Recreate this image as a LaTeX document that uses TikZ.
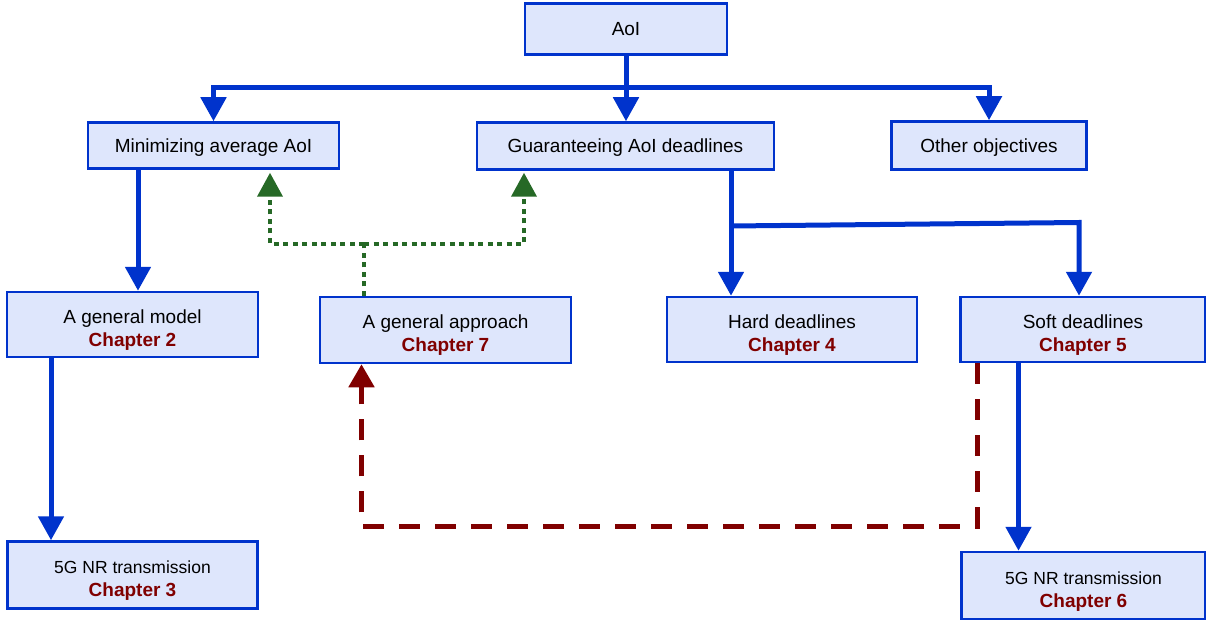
\documentclass[tikz,border=0pt]{standalone}
\usepackage{fontspec}
\setmainfont{Liberation Sans}
\definecolor{BoxBlue}{RGB}{0,51,204}
\definecolor{BoxFill}{RGB}{222,230,252}
\definecolor{ChapRed}{RGB}{128,0,0}
\definecolor{LinkGreen}{RGB}{38,105,38}
\usetikzlibrary{arrows.meta, positioning, calc}
\newcommand{\chaplabel}[2]{\rule{0pt}{20pt}#1\\{\color{ChapRed}\bfseries #2}}
\newcommand{\smalltxt}[1]{{\fontsize{17.5}{23}\selectfont #1}}

\begin{document}
\begin{tikzpicture}[x=1pt, y=-1pt,
		box/.style={draw=BoxBlue, line width=2.5pt, fill=BoxFill, inner sep=0pt, align=center, text depth=-2pt, font=\fontsize{19}{23}\selectfont},
		arr/.style={-{Triangle[width=25pt,length=24pt]}, draw=BoxBlue, line width=5pt},
		dotarr/.style={-{Triangle[width=25pt,length=24pt]}, draw=LinkGreen, line width=4pt, dash pattern=on 5pt off 4.5pt},
		dotline/.style={draw=LinkGreen, line width=4pt, dash pattern=on 5pt off 4.5pt},
		dasharr/.style={-{Triangle[width=25pt,length=23pt]}, draw=ChapRed, line width=5pt, dash pattern=on 21pt off 15pt}]
	\useasboundingbox (0,0) rectangle (1206,620);
	\node[box, minimum width=202pt, minimum height=51pt] (aoi) at (626,29) {AoI};
	\node[box, minimum width=251pt, minimum height=46pt] (minavg) at (213.5,145.5) {Minimizing average AoI};
	\node[box, minimum width=297pt, minimum height=47pt] (guar) at (625.5,146) {Guaranteeing AoI deadlines};
	\node[box, minimum width=195pt, minimum height=48pt] (other) at (989,145.5) {Other objectives};
	\node[box, minimum width=251pt, minimum height=65pt] (model) at (132.5,324.5) {\chaplabel{A general model}{Chapter 2}};
	\node[box, minimum width=251pt, minimum height=66pt] (approach) at (445.5,330) {\chaplabel{A general approach}{Chapter 7}};
	\node[box, minimum width=250pt, minimum height=65pt] (hard) at (792,329.5) {\chaplabel{Hard deadlines}{Chapter 4}};
	\node[box, minimum width=245pt, minimum height=65pt] (soft) at (1083,329.5) {\chaplabel{Soft deadlines}{Chapter 5}};
	\node[box, minimum width=250pt, minimum height=67pt] (nrA) at (132.5,575) {\chaplabel{\smalltxt{5G NR transmission}}{Chapter 3}};
	\node[box, minimum width=244pt, minimum height=67pt] (nrB) at (1083.5,585.5) {\chaplabel{\smalltxt{5G NR transmission}}{Chapter 6}};

	\coordinate (topbus) at (626,88);
	\draw[arr] (aoi.south) -- (aoi.south |- guar.north);
	\draw[arr] (topbus) -| (minavg.north);
	\draw[arr] (topbus) -| (other.north);

	\draw[arr] ([xshift=5.5pt]model.north |- minavg.south) -- ([xshift=5.5pt]model.north);
	\draw[arr] ([xshift=-81.5pt]model.south) -- ([xshift=-81.5pt]model.south |- nrA.north);

	\coordinate (gjoin) at (731,226);
	\coordinate (gturn) at (1079,222.5);
	\draw[arr] ([xshift=105.5pt]guar.south) -- (gjoin |- hard.north);
	\draw[arr] (gjoin) -- (gturn) -- (gturn |- soft.north);
	\draw[arr] ([xshift=-64.5pt]soft.south) -- ([xshift=-64.5pt]soft.south |- nrB.north);

	\coordinate (gsplit) at (364,244);
	\draw[dotline] ([xshift=-81.5pt]approach.north) -- (gsplit);
	\draw[dotarr] (gsplit) -| ([xshift=56.5pt,yshift=-3pt]minavg.south);
	\draw[dotarr] (gsplit) -| ([xshift=-101.5pt,yshift=-2pt]guar.south);

	\coordinate (rcorner) at (361.5,526);
	\draw[dasharr] ([xshift=-106pt]soft.south) |- (rcorner) -- (rcorner |- approach.south);
\end{tikzpicture}
\end{document}
